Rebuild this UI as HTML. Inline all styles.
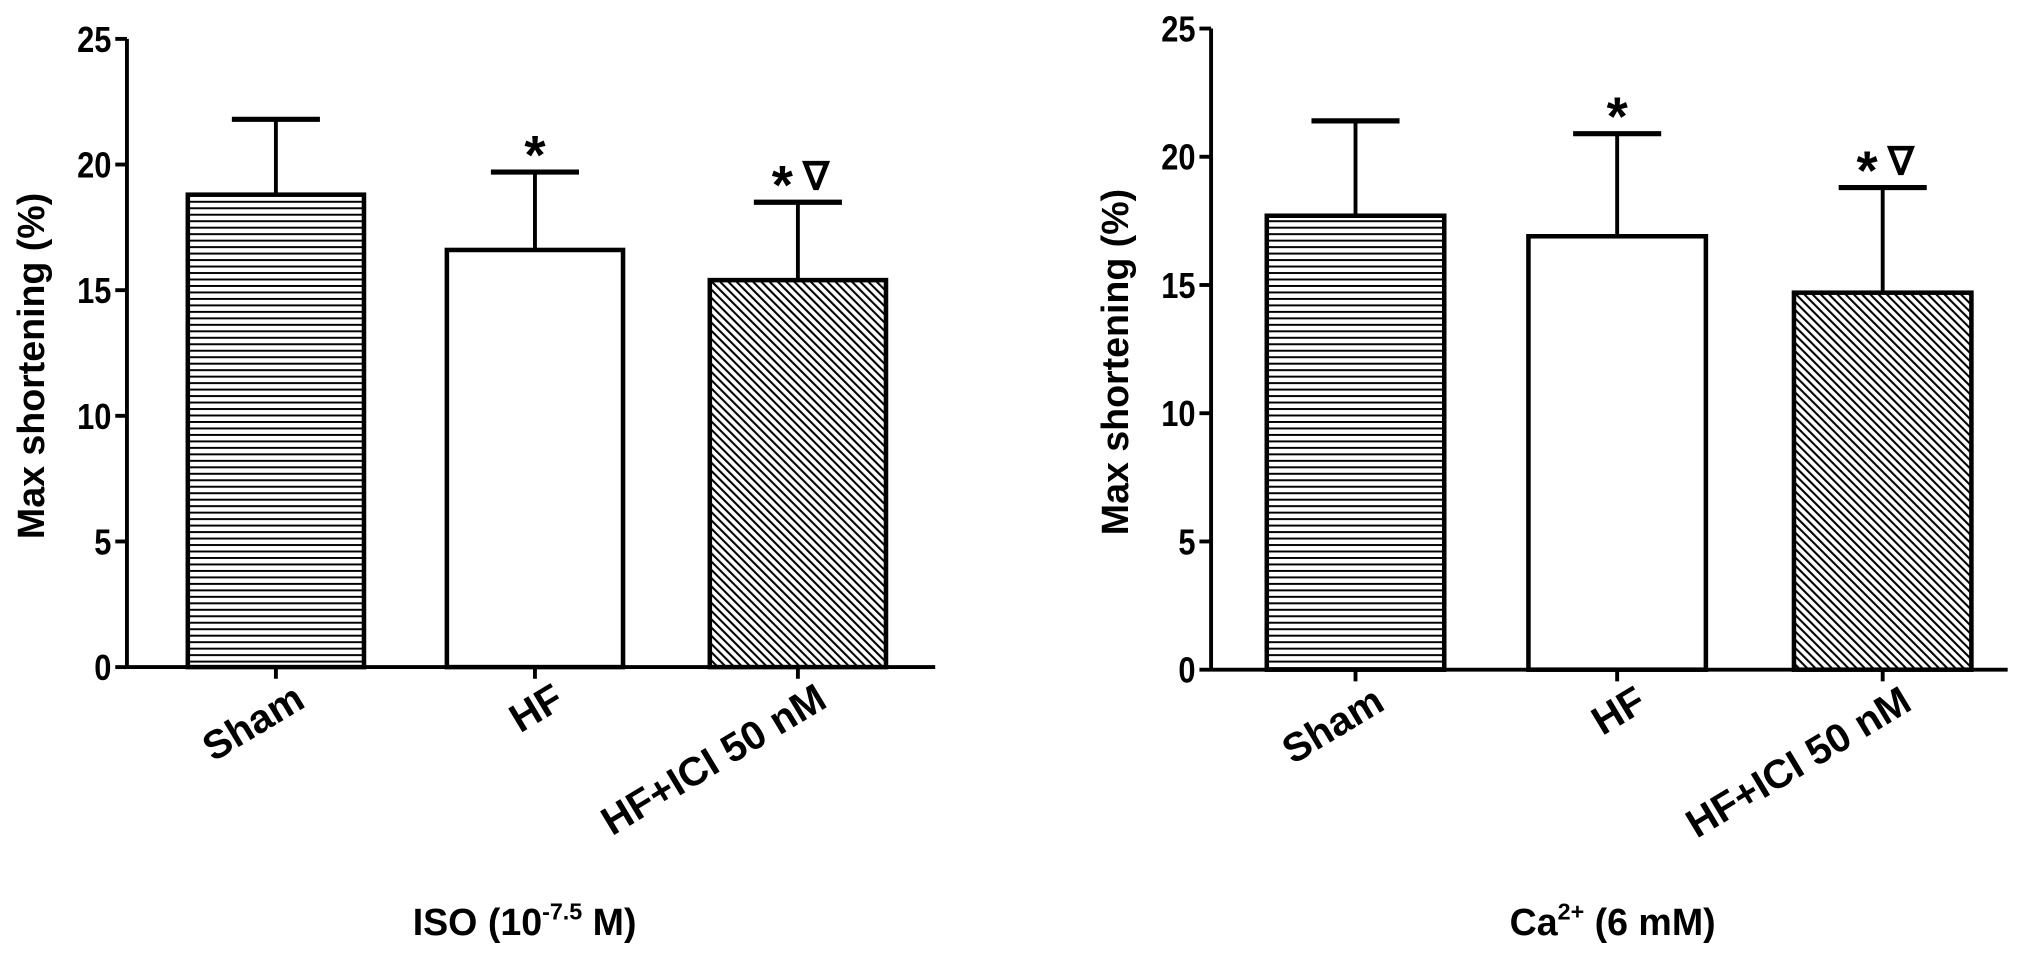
<!DOCTYPE html>
<html><head><meta charset="utf-8"><style>
html,body{margin:0;padding:0;background:#fff}
svg{display:block}
text{font-family:"Liberation Sans",Arial,sans-serif;font-weight:bold;fill:#000}
</style></head><body>
<svg id="fig" width="2031" height="953" viewBox="0 0 1568 735.7">
<defs>
<pattern id="hstripe" width="8" height="5" patternUnits="userSpaceOnUse"><rect width="8" height="5" fill="#fff"/><rect y="0" width="8" height="1.5" fill="#000"/></pattern>
<pattern id="dstripe" width="4.5" height="4.5" patternUnits="userSpaceOnUse" patternTransform="rotate(-45)"><rect width="4.5" height="4.5" fill="#fff"/><rect width="1.6" height="4.5" fill="#000"/></pattern>
</defs>
</svg>
<script>
const categories = ["Sham", "HF", "HF+ICI 50 nM"];
const isoValues = [18.8, 16.6, 15.4];
const isoErrors = [3.0, 3.1, 3.1];
const caValues = [17.7, 16.9, 14.7];
const caErrors = [3.7, 4.0, 4.1];
const yTicks = [0, 5, 10, 15, 20, 25];
const marks = ["", "*", "*"];
const triMarks = [false, false, true];
const fills = ["url(#hstripe)", "#fff", "url(#dstripe)"];

const svg = document.getElementById('fig');
const NS = 'http://www.w3.org/2000/svg';
function mk(tag, attrs, parent) {
  const e = document.createElementNS(NS, tag);
  for (const k in attrs) e.setAttribute(k, attrs[k]);
  (parent || svg).appendChild(e);
  return e;
}

function drawPanel(cfg, values, errors) {
  const g = mk('g', {});
  
  
  const y = v => cfg.y0 + (cfg.y25 - cfg.y0) * v / 25;
  const ax = mk('line', {x1: cfg.ax, y1: y(25), x2: cfg.ax, y2: y(0), stroke: '#000', 'stroke-width': 3}, g);
  
  
  const xa = mk('line', {x1: cfg.ax, y1: y(0), x2: cfg.xEnd, y2: y(0), stroke: '#000', 'stroke-width': 3}, g);
  
  
  yTicks.forEach(t => {
    mk('line', {x1: cfg.ax - 9, y1: y(t), x2: cfg.ax, y2: y(t), stroke: '#000', 'stroke-width': 3}, g);
    const tl = mk('text', {x: cfg.ax - 12, y: y(t) + 10, 'text-anchor': 'end', 'font-size': 28, transform: `translate(${(cfg.ax - 12) * 0.15},0) scale(0.85,1)`}, g);
    tl.textContent = t;
    
    
  });
  const yt = mk('text', {x: 0, y: 0, 'text-anchor': 'middle', 'font-size': 29, transform: `translate(${cfg.ax - 64},${(y(0) + y(25)) / 2 + 10}) rotate(-90)`}, g);
  yt.textContent = 'Max shortening (%)';
  
  
  categories.forEach((c, i) => {
    const x0 = cfg.bars[i], w = cfg.bw, cx = x0 + w / 2;
    const top = y(values[i]), etop = y(values[i] + errors[i]);
    const el = mk('line', {x1: cx, y1: top, x2: cx, y2: etop, stroke: '#000', 'stroke-width': 3}, g);
    
    
    const cap = mk('line', {x1: cx - 34, y1: etop, x2: cx + 34, y2: etop, stroke: '#000', 'stroke-width': 4}, g);
    
    
    const b = mk('rect', {x: x0, y: top, width: w, height: y(0) - top, fill: fills[i], stroke: '#000', 'stroke-width': 3.5}, g);
    
    
    if (marks[i]) {
      const sx = triMarks[i] ? cx - 12 : cx;
      const m = mk('text', {x: sx, y: etop + 1, 'text-anchor': 'middle', 'font-size': 42}, g);
      m.textContent = marks[i];
      
      
    }
    if (triMarks[i]) {
      const tm = mk('text', {x: cx + 14, y: etop - 10, 'text-anchor': 'middle', 'font-size': 30}, g);
      tm.textContent = '\u2207';
      
      
    }
    mk('line', {x1: cx, y1: y(0), x2: cx, y2: y(0) + 9, stroke: '#000', 'stroke-width': 3}, g);
    const xl = mk('text', {x: 0, y: 0, 'text-anchor': 'end', 'font-size': 31, transform: `translate(${cx + 24},${y(0) + 30}) rotate(-31)`}, g);
    xl.textContent = c;
    
    
  });
  const xt = mk('text', {x: cfg.titleX, y: 722, 'text-anchor': 'middle', 'font-size': 29}, g);
  xt.innerHTML = cfg.title;
  
  
}

drawPanel({name: 'iso-panel', ax: 98, xEnd: 722, y0: 515, y25: 30, bars: [145, 345, 548], bw: 136, titleX: 405,
  title: 'ISO (10<tspan dy="-12" font-size="18">-7.5</tspan><tspan dy="12"> M)</tspan>'}, isoValues, isoErrors);
drawPanel({name: 'ca-panel', ax: 935, xEnd: 1550, y0: 517, y25: 22, bars: [978, 1180, 1385], bw: 137, titleX: 1245,
  title: 'Ca<tspan dy="-12" font-size="18">2+</tspan><tspan dy="12"> (6 mM)</tspan>'}, caValues, caErrors);
</script>
</body></html>
